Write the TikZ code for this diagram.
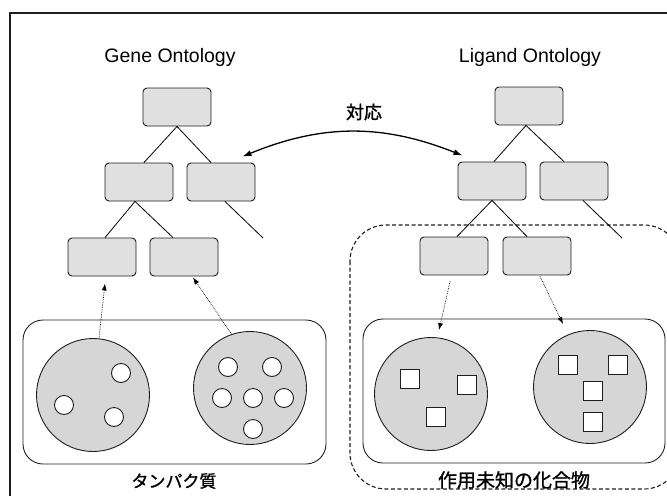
\documentclass[tikz,border=0pt]{standalone}
\usepackage{fontspec}
\setmainfont{Liberation Sans}
\newfontfamily\jpfont[FakeBold=1.2]{Noto Sans CJK JP}
\usetikzlibrary{arrows.meta,positioning,calc}
\definecolor{termfill}{RGB}{224,224,224}
\definecolor{cellfill}{RGB}{214,214,214}
\definecolor{inkgray}{RGB}{30,30,30}

\tikzset{
  term/.style={draw=inkgray, rounded corners=4pt, fill=termfill, minimum width=68pt, minimum height=38pt, line width=0.9pt},
  cell/.style={draw=inkgray, circle, fill=cellfill, minimum size=113pt, inner sep=0pt, line width=0.9pt},
  prot/.style={draw=inkgray, circle, fill=white, minimum size=19pt, inner sep=0pt, line width=0.9pt},
  cmpd/.style={draw=inkgray, fill=white, minimum size=19pt, inner sep=0pt, line width=0.9pt},
  link/.style={line width=0.8pt},
  annot/.style={densely dotted, line width=0.7pt, -{Latex[length=7pt,width=5pt]}},
  title/.style={font=\fontsize{19.5}{22}\selectfont},
  jlabel/.style={font=\jpfont\fontsize{18}{20}\selectfont},
}

\begin{document}
\begin{tikzpicture}[x=1pt,y=-1pt]
\useasboundingbox (0,0) rectangle (667,496);
\clip (0,0) rectangle (667,496);
% outer frame, only top and left
\draw[line width=1.3pt, inkgray] (10,496) -- (10,13) -- (667,13);

% groups
\draw[line width=0.9pt, inkgray, rounded corners=20pt] (23,320) rectangle (326,464);
\draw[line width=0.9pt, inkgray, rounded corners=20pt] (363,319) rectangle (665,463);
\draw[line width=1.1pt, inkgray, dash pattern=on 4pt off 2.5pt, rounded corners=36pt] (350,225) rectangle (680,489);

\node[title] (gotitle) at (170,57) {Gene Ontology};
\node[title] (lotitle) at (530,57) {Ligand Ontology};

% Gene Ontology tree
\node[term] (go1)  at (177,107) {};
\node[term] (go21) at (139,182) {};
\node[term] (go22) at (221,182) {};
\node[term] (go31) at (102,257) {};
\node[term] (go32) at (184,257) {};
\coordinate (goend) at (263,238);
\draw[link] (go1.south) -- ([xshift=5pt]go21.north);
\draw[link] (go1.south) -- ([xshift=-10pt]go22.north);
\draw[link] ([xshift=-4pt]go21.south) -- ([xshift=3pt]go31.north);
\draw[link] ([xshift=-4pt]go21.south) -- ([xshift=-11pt]go32.north);
\draw[link] ([xshift=4pt]go22.south) -- (goend);

% Ligand Ontology tree
\node[term] (lo1)  at (529,106) {};
\node[term] (lo21) at (492,181) {};
\node[term] (lo22) at (574,181) {};
\node[term] (lo31) at (454,256) {};
\node[term] (lo32) at (537,256) {};
\coordinate (loend) at (622,238);
\draw[link] ([xshift=-3pt]lo1.south) -- ([xshift=2pt]lo21.north);
\draw[link] ([xshift=-3pt]lo1.south) -- ([xshift=-10pt]lo22.north);
\draw[link] (lo21.south) -- ([xshift=3pt]lo31.north);
\draw[link] (lo21.south) -- ([xshift=-10pt]lo32.north);
\draw[link] ([xshift=9pt]lo22.south) -- (loend);

% correspondence between the two ontologies
\draw[line width=1.3pt, {Latex[length=9pt,width=6pt]}-{Latex[length=9pt,width=6pt]}]
  ([xshift=-13pt,yshift=6pt]go22.north east) to[bend left=22] ([xshift=5pt,yshift=6pt]lo21.north west);
\node[jlabel] (match) at (364,112) {対応};

% proteins
\node[cell] (gc1) at (93,395) {};
\node[cell] (gc2) at (250,388) {};
\node[prot] (p1) at (121,373) {};
\node[prot] (p2) at (64,405) {};
\node[prot] (p3) at (114,417) {};
\foreach \px/\py [count=\i] in {228/367, 272/367, 222/398, 253/398, 284/398, 253/429}
  \node[prot] (q\i) at (\px,\py) {};
\draw[annot] (gc1.84) -- ([xshift=3pt,yshift=-7pt]go31.south);
\draw[annot] (gc2.109) -- ([xshift=9pt,yshift=-1pt]go32.south);
\node[jlabel, font=\jpfont\fontsize{17}{20}\selectfont] (protlabel) at (174,481) {タンパク質};

% compounds
\node[cell] (lc1) at (431,394) {};
\node[cell] (lc2) at (590,387) {};
\node[cmpd] (c1) at (410,379) {};
\node[cmpd] (c2) at (467,385) {};
\node[cmpd] (c3) at (436,417) {};
\foreach \cx/\cy [count=\i] in {568/365, 618/365, 593/391, 593/422}
  \node[cmpd] (d\i) at (\cx,\cy) {};
\draw[annot] ([xshift=-4pt,yshift=-6pt]lo31.south) -- ([xshift=8pt,yshift=7pt]lc1.north);
\draw[annot] ([xshift=3pt,yshift=-1pt]lo32.south) -- ([xshift=-27pt,yshift=6pt]lc2.north);
\node[jlabel, font=\jpfont\fontsize{19}{20}\selectfont] (cmpdlabel) at (514,480) {作用未知の化合物};
\end{tikzpicture}
\end{document}
